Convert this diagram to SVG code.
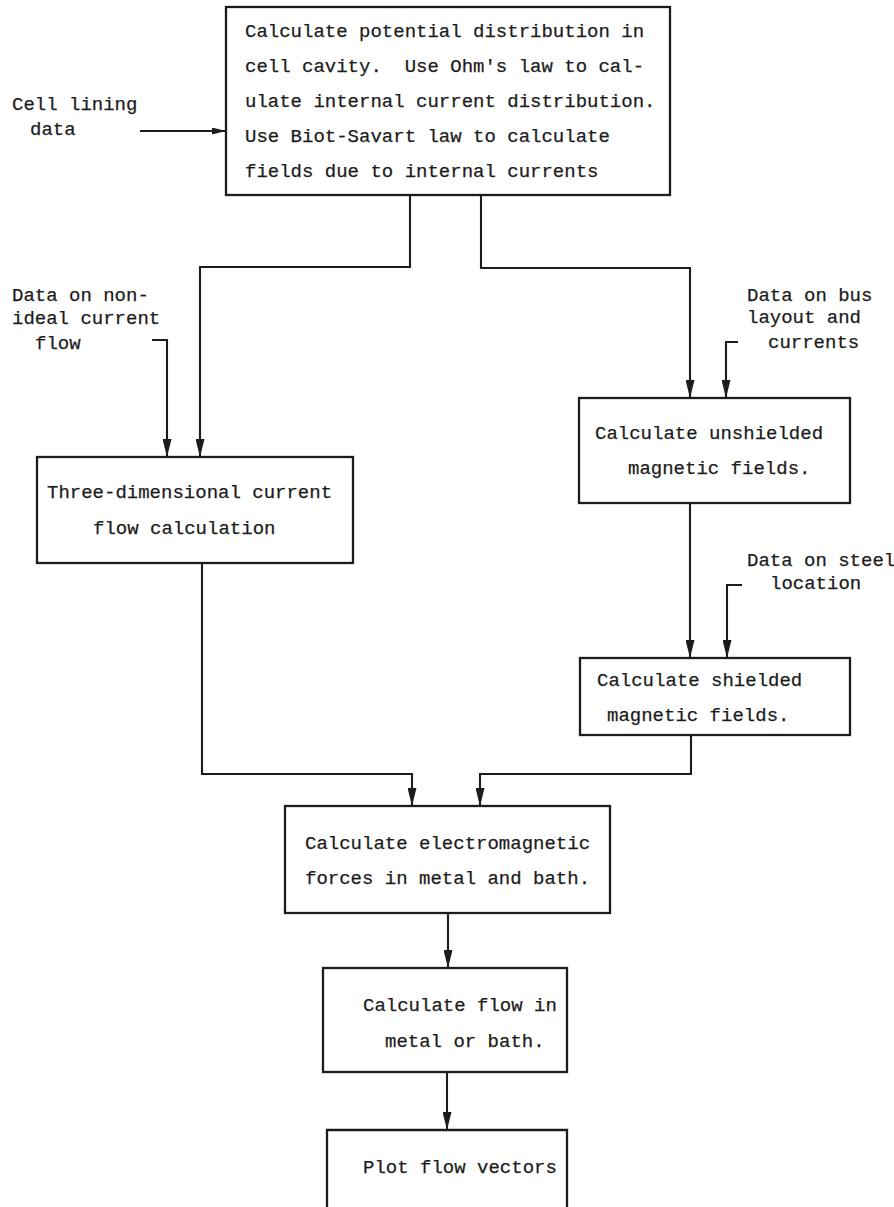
<svg xmlns="http://www.w3.org/2000/svg" width="894" height="1207" viewBox="0 0 894 1207">
<style>
text{font-family:"Liberation Mono","DejaVu Sans Mono",monospace;font-size:19px;fill:#1c1c1c;stroke:#1c1c1c;stroke-width:0.25;white-space:pre}
.box{fill:none;stroke:#1c1c1c;stroke-width:2.3}
.con{fill:none;stroke:#1c1c1c;stroke-width:2.1}
</style>
<defs>
<marker id="ah" viewBox="0 0 18 9" refX="18" refY="4.5" markerWidth="18" markerHeight="9" markerUnits="userSpaceOnUse" orient="auto">
<path d="M0,0 L18,4.5 L0,9 Z" fill="#1c1c1c"/>
</marker>
<marker id="ahs" viewBox="0 0 14 7" refX="14" refY="3.5" markerWidth="14" markerHeight="7" markerUnits="userSpaceOnUse" orient="auto">
<path d="M0,0 L14,3.5 L0,7 Z" fill="#1c1c1c"/>
</marker>
</defs>
<rect width="894" height="1207" fill="#fff"/>
<g id="connectors">
<path class="con" d="M140,131 H226" marker-end="url(#ahs)"/>
<path class="con" d="M410,195 V267 H200 V457" marker-end="url(#ah)"/>
<path class="con" d="M481,195 V268 H690 V398" marker-end="url(#ah)"/>
<path class="con" d="M152,340 H167 V457" marker-end="url(#ah)"/>
<path class="con" d="M738,342 H726 V398" marker-end="url(#ah)"/>
<path class="con" d="M690,503 V658" marker-end="url(#ah)"/>
<path class="con" d="M742,585 H727 V658" marker-end="url(#ah)"/>
<path class="con" d="M202,563 V774 H412 V806" marker-end="url(#ah)"/>
<path class="con" d="M691,735 V774 H480 V806" marker-end="url(#ah)"/>
<path class="con" d="M448,913 V968" marker-end="url(#ah)"/>
<path class="con" d="M447,1072 V1130" marker-end="url(#ah)"/>
</g>
<g id="lbl-cell">
<text x="12" y="110">Cell lining</text>
<text x="30" y="135">data</text>
</g>
<g id="lbl-nonideal">
<text x="12" y="301">Data on non-</text>
<text x="12" y="324">ideal current</text>
<text x="35" y="349">flow</text>
</g>
<g id="lbl-bus">
<text x="747" y="301">Data on bus</text>
<text x="747" y="323">layout and</text>
<text x="768" y="348">currents</text>
</g>
<g id="lbl-steel">
<text x="747" y="566">Data on steel</text>
<text x="770" y="589">location</text>
</g>
<g id="n-potential">
<rect class="box" x="226" y="7" width="444" height="188"/>
<text x="245" y="37">Calculate potential distribution in</text>
<text x="245" y="72">cell cavity.  Use Ohm's law to cal-</text>
<text x="245" y="107">ulate internal current distribution.</text>
<text x="245" y="142">Use Biot-Savart law to calculate</text>
<text x="245" y="177">fields due to internal currents</text>
</g>
<g id="n-threed">
<rect class="box" x="37" y="457" width="316" height="106"/>
<text x="47" y="498">Three-dimensional current</text>
<text x="93" y="534">flow calculation</text>
</g>
<g id="n-unshielded">
<rect class="box" x="579" y="398" width="271" height="105"/>
<text x="595" y="439">Calculate unshielded</text>
<text x="628" y="474">magnetic fields.</text>
</g>
<g id="n-shielded">
<rect class="box" x="580" y="658" width="270" height="77"/>
<text x="597" y="686">Calculate shielded</text>
<text x="607" y="721">magnetic fields.</text>
</g>
<g id="n-em">
<rect class="box" x="285" y="806" width="325" height="107"/>
<text x="305" y="849">Calculate electromagnetic</text>
<text x="305" y="884">forces in metal and bath.</text>
</g>
<g id="n-flow">
<rect class="box" x="323" y="968" width="244" height="104"/>
<text x="363" y="1011">Calculate flow in</text>
<text x="385" y="1047">metal or bath.</text>
</g>
<g id="n-plot">
<path class="box" d="M327,1207 V1130 H567 V1207"/>
<text x="363" y="1173">Plot flow vectors</text>
</g>
</svg>
